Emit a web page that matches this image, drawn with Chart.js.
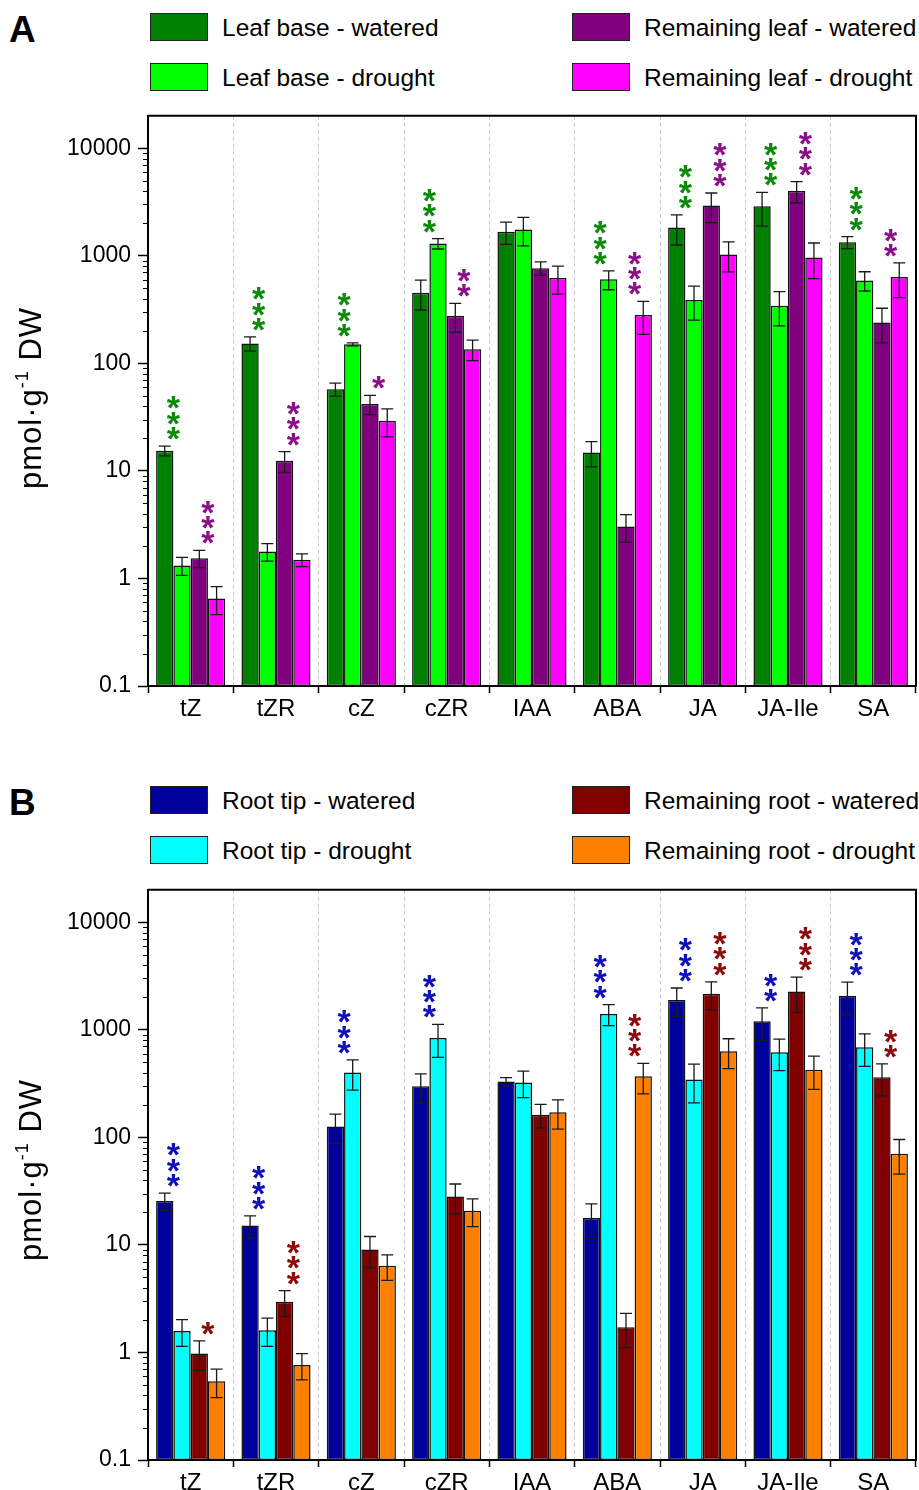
<!DOCTYPE html>
<html>
<head>
<meta charset="utf-8">
<script src="https://cdn.jsdelivr.net/npm/chart.js@4.4.1/dist/chart.umd.min.js"></script>
<style>
  body { margin: 0; background: #fff; font-family: "Liberation Sans", Arial, sans-serif; }
  #page { position: relative; width: 919px; height: 1490px; overflow: hidden; }
  .panel { position: absolute; left: 0; width: 919px; }
  .letter { position: absolute; left: 9px; font-weight: bold; font-size: 37px; line-height: 1; color: #000; }
  .swatch { position: absolute; width: 56px; height: 26px; border: 1.5px solid #222; }
  .ltext { position: absolute; font-size: 24.5px; line-height: 28px; color: #000; white-space: nowrap; }
  .ytitle { position: absolute; font-size: 31px; letter-spacing: 1px; color: #000; white-space: nowrap;
            transform: translate(-50%, -50%) rotate(-90deg); }
  .ytitle sup { font-size: 18px; vertical-align: 13px; line-height: 0; }
</style>
</head>
<body>
<div id="page">
  <div class="panel" id="legA" style="top:0;height:95px"></div>
  <div class="panel" style="top:95px;height:645px"><canvas id="chartA" width="919" height="645"></canvas></div>
  <div class="ytitle" style="left:31px;top:398px">pmol·g<sup>-1</sup> DW</div>

  <div class="panel" id="legB" style="top:773px;height:95px"></div>
  <div class="panel" style="top:869px;height:621px"><canvas id="chartB" width="919" height="621"></canvas></div>
  <div class="ytitle" style="left:31px;top:1170px">pmol·g<sup>-1</sup> DW</div>
</div>
<script>
// categories and tick labels
const hormones = ['tZ', 'tZR', 'cZ', 'cZR', 'IAA', 'ABA', 'JA', 'JA-Ile', 'SA'];
const yTickValues = [0.1, 1, 10, 100, 1000, 10000];
const yTickLabels = ['0.1', '1', '10', '100', '1000', '10000'];

// panel A - leaves (means and SD)
const leafBaseWatered   = [15.4, 153, 57.5, 453, 1667, 14.8, 1829, 2886, 1337];
const leafBaseWateredSd = [1.6, 23, 8, 140, 390, 3.9, 570, 1000, 170];
const leafBaseDrought   = [1.32, 1.78, 150, 1300, 1754, 603, 387, 343, 590];
const leafBaseDroughtSd = [0.25, 0.33, 5, 145, 520, 120, 135, 120, 120];
const remLeafWatered    = [1.54, 12.4, 41.8, 277, 767, 3.04, 2930, 4000, 240];
const remLeafWateredSd  = [0.28, 2.7, 8.5, 83, 110, 0.88, 900, 890, 85];
const remLeafDrought    = [0.65, 1.49, 29.2, 135, 620, 281, 1028, 964, 633];
const remLeafDroughtSd  = [0.19, 0.2, 8.5, 29, 180, 95, 320, 350, 225];
// number of stars per hormone
const sigLeafBase = [3, 3, 3, 3, 0, 3, 3, 3, 3];
const sigRemLeaf  = [3, 3, 1, 2, 0, 3, 3, 3, 2];

// panel B - roots
const rootTipWatered    = [25.6, 15.1, 126, 299, 330, 17.8, 1889, 1197, 2071];
const rootTipWateredSd  = [4.7, 3.5, 38, 90, 29, 6.3, 555, 400, 700];
const rootTipDrought    = [1.58, 1.61, 400, 839, 323, 1401, 344, 617, 687];
const rootTipDroughtSd  = [0.44, 0.47, 125, 285, 89, 310, 135, 200, 230];
const remRootWatered    = [0.98, 2.96, 9.06, 28.1, 162, 1.71, 2162, 2270, 362];
const remRootWateredSd  = [0.3, 0.8, 2.9, 8.7, 40, 0.6, 630, 820, 120];
const remRootDrought    = [0.54, 0.766, 6.38, 20.8, 171, 370, 630, 424, 70.4];
const remRootDroughtSd  = [0.16, 0.21, 1.7, 6, 52, 117, 195, 145, 25];
const sigRootTip = [3, 3, 3, 3, 0, 3, 3, 2, 3];
const sigRemRoot = [1, 3, 0, 0, 0, 3, 3, 3, 2];

const FONT = '"Liberation Sans", Arial, sans-serif';

// error bars, stars, minor log ticks and the box around the plot
const extras = {
  id: 'extras',
  afterDatasetsDraw(chart, args, opts) {
    const ctx = chart.ctx;
    const y = chart.scales.y;
    ctx.save();
    ctx.strokeStyle = '#1a1a1a';
    ctx.lineWidth = 1.3;
    chart.data.datasets.forEach((ds, i) => {
      chart.getDatasetMeta(i).data.forEach((bar, j) => {
        const v = ds.data[j], e = ds.errors[j];
        const yt = y.getPixelForValue(v + e);
        const yb = y.getPixelForValue(v - e);
        ctx.beginPath();
        ctx.moveTo(bar.x, yt); ctx.lineTo(bar.x, yb);
        ctx.moveTo(bar.x - 6, yt); ctx.lineTo(bar.x + 6, yt);
        ctx.moveTo(bar.x - 6, yb); ctx.lineTo(bar.x + 6, yb);
        ctx.stroke();
      });
    });

    ctx.font = 'bold 34px ' + FONT;
    const m = ctx.measureText('*');
    const shift = (m.actualBoundingBoxAscent - m.actualBoundingBoxDescent) / 2;
    ctx.textAlign = 'center';
    ctx.textBaseline = 'alphabetic';
    opts.stars.forEach(s => {
      const da = chart.data.datasets[s.a], db = chart.data.datasets[s.b];
      const ma = chart.getDatasetMeta(s.a), mb = chart.getDatasetMeta(s.b);
      ctx.fillStyle = s.color;
      s.n.forEach((n, j) => {
        if (!n) return;
        const x = (ma.data[j].x + mb.data[j].x) / 2;
        const top = Math.min(y.getPixelForValue(da.data[j] + da.errors[j]),
                             y.getPixelForValue(db.data[j] + db.errors[j]));
        for (let k = 0; k < n; k++) {
          ctx.fillText('*', x, top - 12.5 - k * 15.3 + shift);
        }
      });
    });
    ctx.restore();
  },
  afterDraw(chart) {
    const ctx = chart.ctx;
    const y = chart.scales.y;
    const a = chart.chartArea;
    ctx.save();
    ctx.strokeStyle = '#000';
    ctx.lineWidth = 1.2;
    ctx.beginPath();
    for (let p = -1; p < 4; p++) {
      for (let mm = 2; mm < 10; mm++) {
        const v = mm * Math.pow(10, p);
        const py = Math.round(y.getPixelForValue(v)) + 0.5;
        ctx.moveTo(a.left - 5, py); ctx.lineTo(a.left, py);
      }
    }
    ctx.stroke();
    ctx.lineWidth = 2;
    ctx.beginPath();
    ctx.moveTo(a.left, a.top); ctx.lineTo(a.right, a.top); ctx.lineTo(a.right, a.bottom);
    ctx.stroke();
    ctx.restore();
  }
};

function makeChart(id, sets, stars, xHeight) {
  return new Chart(document.getElementById(id), {
    type: 'bar',
    data: {
      labels: hormones,
      datasets: sets.map(s => ({
        label: s.label,
        data: s.data,
        errors: s.sd,
        backgroundColor: s.color,
        borderColor: '#111',
        borderWidth: 1.5,
        borderSkipped: false,
        barPercentage: 1,
        categoryPercentage: 0.81
      }))
    },
    options: {
      responsive: false,
      animation: false,
      layout: { padding: { top: 10, right: 3, left: 0, bottom: 0 } },
      plugins: {
        legend: { display: false },
        tooltip: { enabled: false },
        extras: { stars: stars }
      },
      scales: {
        x: {
          grid: {
            offset: true, color: '#c9c9c9', lineWidth: 1,
            drawTicks: true, tickLength: 7, tickColor: '#000', tickWidth: 1.5
          },
          border: { display: true, color: '#000', width: 2, dash: [4, 3] },
          ticks: { color: '#000', font: { family: FONT, size: 24 }, padding: 2, maxRotation: 0 },
          afterFit: s => { s.height = xHeight; }
        },
        y: {
          type: 'logarithmic',
          min: 0.1,
          max: 20000,
          grid: { drawOnChartArea: false, drawTicks: true, tickLength: 10, tickColor: '#000', tickWidth: 1.5 },
          border: { display: true, color: '#000', width: 2 },
          afterBuildTicks: s => { s.ticks = yTickValues.map(v => ({ value: v })); },
          ticks: {
            color: '#000', font: { family: FONT, size: 23 }, padding: 7,
            callback: v => yTickLabels[yTickValues.indexOf(v)]
          },
          afterFit: s => { s.width = 148; }
        }
      }
    },
    plugins: [extras]
  });
}

function buildLegend(elId, chart, letter) {
  const box = document.getElementById(elId);
  const l = document.createElement('div');
  l.className = 'letter';
  l.style.top = '11px';
  l.textContent = letter;
  box.appendChild(l);
  const colX = [150, 572], rowY = [13, 63];
  chart.data.datasets.forEach((ds, i) => {
    const col = i < 2 ? 0 : 1, row = i % 2;
    const sw = document.createElement('div');
    sw.className = 'swatch';
    sw.style.left = colX[col] + 'px';
    sw.style.top = rowY[row] + 'px';
    sw.style.background = ds.backgroundColor;
    box.appendChild(sw);
    const t = document.createElement('div');
    t.className = 'ltext';
    t.style.left = (colX[col] + 72) + 'px';
    t.style.top = (rowY[row] + 1) + 'px';
    t.textContent = ds.label;
    box.appendChild(t);
  });
}

const chartA = makeChart('chartA', [
  { label: 'Leaf base - watered', data: leafBaseWatered, sd: leafBaseWateredSd, color: '#008000' },
  { label: 'Leaf base - drought', data: leafBaseDrought, sd: leafBaseDroughtSd, color: '#00ff00' },
  { label: 'Remaining leaf - watered', data: remLeafWatered, sd: remLeafWateredSd, color: '#800080' },
  { label: 'Remaining leaf - drought', data: remLeafDrought, sd: remLeafDroughtSd, color: '#ff00ff' }
], [
  { a: 0, b: 1, n: sigLeafBase, color: '#0b8a0b' },
  { a: 2, b: 3, n: sigRemLeaf, color: '#8a108a' }
], 54);

const chartB = makeChart('chartB', [
  { label: 'Root tip - watered', data: rootTipWatered, sd: rootTipWateredSd, color: '#00009c' },
  { label: 'Root tip - drought', data: rootTipDrought, sd: rootTipDroughtSd, color: '#00ffff' },
  { label: 'Remaining root - watered', data: remRootWatered, sd: remRootWateredSd, color: '#800000' },
  { label: 'Remaining root - drought', data: remRootDrought, sd: remRootDroughtSd, color: '#ff8000' }
], [
  { a: 0, b: 1, n: sigRootTip, color: '#1010b8' },
  { a: 2, b: 3, n: sigRemRoot, color: '#8b0a0a' }
], 30);

buildLegend('legA', chartA, 'A');
buildLegend('legB', chartB, 'B');
</script>
</body>
</html>
